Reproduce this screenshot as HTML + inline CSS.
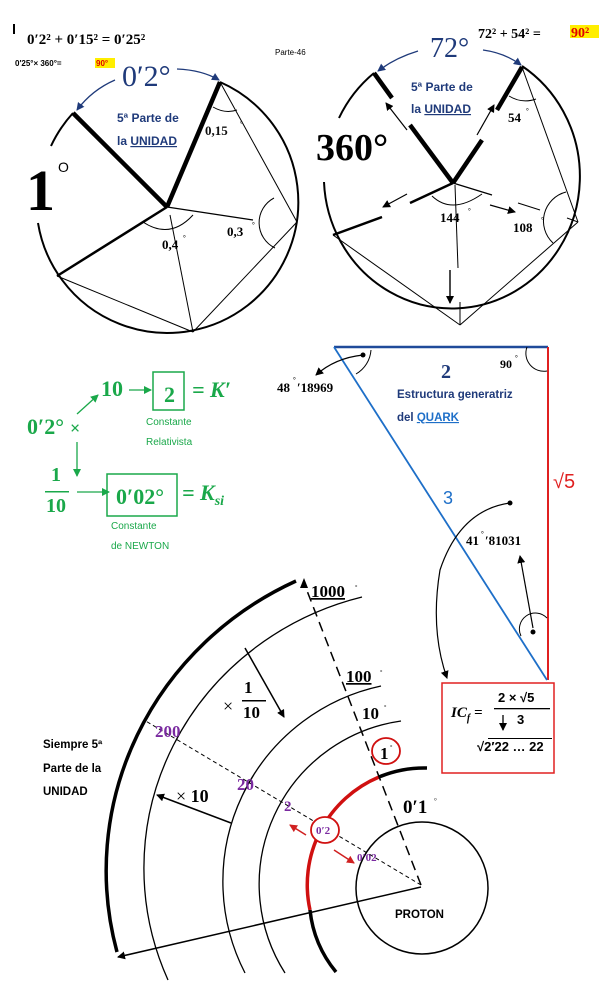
<!DOCTYPE html>
<html><head><meta charset="utf-8"><style>
html,body{margin:0;padding:0;background:#fff;}
svg{display:block;}
.m{font-family:"Liberation Serif",serif;font-weight:bold;}
.s{font-family:"Liberation Sans",sans-serif;font-weight:bold;}
</style></head><body>
<svg width="613" height="998" viewBox="0 0 613 998" xmlns="http://www.w3.org/2000/svg">
<defs>
<marker id="ab" markerWidth="8" markerHeight="8" refX="7" refY="4" orient="auto" markerUnits="userSpaceOnUse"><path d="M0,0 L8,4 L0,8 z" fill="#000"/></marker>
<marker id="abl" markerWidth="8" markerHeight="8" refX="7" refY="4" orient="auto" markerUnits="userSpaceOnUse"><path d="M0,0 L8,4 L0,8 z" fill="#1f3a7a"/></marker>
<marker id="ag" markerWidth="8" markerHeight="8" refX="7" refY="4" orient="auto" markerUnits="userSpaceOnUse"><path d="M0,0 L8,4 L0,8 z" fill="#1aa84a"/></marker>
<marker id="ar" markerWidth="8" markerHeight="8" refX="7" refY="4" orient="auto" markerUnits="userSpaceOnUse"><path d="M0,0 L8,4 L0,8 z" fill="#d02020"/></marker>
</defs>

<!-- ===== TOP LEFT ===== -->
<rect x="13" y="24" width="2" height="10" fill="#000"/>
<text x="27" y="44" class="m" font-size="15">0′2² + 0′15² = 0′25²</text>
<text x="15" y="66" class="s" font-size="8">0′25°× 360°= </text>
<rect x="95" y="58" width="20" height="10" fill="#ffee00"/>
<text x="96" y="66" class="s" font-size="8" fill="#e00000">90°</text>
<text x="275" y="55" font-family="Liberation Sans,sans-serif" font-size="8">Parte-46</text>
<text x="122" y="86" font-family="Liberation Serif,serif" font-size="30" fill="#1f3a7a">0′2°</text>
<path d="M115,80 Q92,90 77,110" fill="none" stroke="#1f3a7a" stroke-width="1.3" marker-end="url(#abl)"/>
<path d="M177,69 Q202,70 219,80" fill="none" stroke="#1f3a7a" stroke-width="1.3" marker-end="url(#abl)"/>
<text x="117" y="122" class="s" font-size="12" fill="#1f3a7a">5ª Parte de</text>
<text x="117" y="145" class="s" font-size="12" fill="#1f3a7a">la <tspan text-decoration="underline">UNIDAD</tspan></text>
<text x="26" y="210" class="m" font-size="58">1</text>
<text x="58" y="172" font-family="Liberation Sans,sans-serif" font-size="14">O</text>
<!-- circle -->
<path d="M73,113 A131,131 0 0 0 51,146" fill="none" stroke="#000" stroke-width="2"/>
<path d="M38,223 A131,131 0 1 0 220,82" fill="none" stroke="#000" stroke-width="2"/>
<line x1="167" y1="207" x2="73" y2="113" stroke="#000" stroke-width="4.5"/>
<line x1="167" y1="207" x2="220" y2="82" stroke="#000" stroke-width="4.5"/>
<line x1="167" y1="207" x2="57" y2="276" stroke="#000" stroke-width="2.5"/>
<line x1="167" y1="207" x2="253" y2="220" stroke="#000" stroke-width="1.3"/>
<line x1="170" y1="215" x2="193" y2="332" stroke="#000" stroke-width="1"/>
<line x1="220" y1="82" x2="297" y2="222" stroke="#000" stroke-width="1"/>
<line x1="297" y1="222" x2="193" y2="332" stroke="#000" stroke-width="1"/>
<line x1="57" y1="276" x2="193" y2="332" stroke="#000" stroke-width="1"/>
<path d="M213,107 Q225,114 237,110" fill="none" stroke="#000" stroke-width="1"/>
<path d="M274,198 A28,28 0 0 0 275,248" fill="none" stroke="#000" stroke-width="1"/>
<path d="M143,222 Q170,240 193,215" fill="none" stroke="#000" stroke-width="1"/>
<text x="205" y="135" class="m" font-size="13" fill="#111">0,15</text><text x="240" y="126" class="m" font-size="7">°</text>
<text x="227" y="236" class="m" font-size="13">0,3</text><text x="252" y="227" class="m" font-size="7">°</text>
<text x="162" y="249" class="m" font-size="13">0,4</text><text x="183" y="240" class="m" font-size="7">°</text>

<!-- ===== TOP RIGHT ===== -->
<text x="430" y="57" font-family="Liberation Serif,serif" font-size="28" fill="#1f3a7a">72°</text>
<text x="478" y="38" class="m" font-size="14">72² + 54² = </text>
<rect x="570" y="25" width="29" height="13" fill="#ffee00"/>
<text x="571" y="37" class="m" font-size="14" fill="#e00000">90²</text>
<path d="M418,51 Q395,58 378,71" fill="none" stroke="#1f3a7a" stroke-width="1.3" marker-end="url(#abl)"/>
<path d="M483,50 Q505,53 521,65" fill="none" stroke="#1f3a7a" stroke-width="1.3" marker-end="url(#abl)"/>
<text x="411" y="91" class="s" font-size="12" fill="#1f3a7a">5ª Parte de</text>
<text x="411" y="113" class="s" font-size="12" fill="#1f3a7a">la <tspan text-decoration="underline">UNIDAD</tspan></text>
<text x="316" y="160" class="m" font-size="38">360°</text>
<path d="M374,73 A128,132 0 0 0 339,118" fill="none" stroke="#000" stroke-width="2"/>
<path d="M324,182 A128,132 0 1 0 522,66" fill="none" stroke="#000" stroke-width="2"/>
<line x1="453" y1="183" x2="410" y2="125" stroke="#000" stroke-width="4.5"/>
<line x1="392" y1="98" x2="374" y2="73" stroke="#000" stroke-width="4.5"/>
<line x1="407" y1="130" x2="386" y2="103" stroke="#000" stroke-width="1.2" marker-end="url(#ab)"/>
<line x1="453" y1="183" x2="482" y2="140" stroke="#000" stroke-width="4.5"/>
<line x1="497" y1="110" x2="522" y2="67" stroke="#000" stroke-width="4.5"/>
<line x1="477" y1="135" x2="494" y2="105" stroke="#000" stroke-width="1.2" marker-end="url(#ab)"/>
<line x1="453" y1="183" x2="410" y2="203" stroke="#000" stroke-width="2.5"/>
<line x1="407" y1="194" x2="383" y2="207" stroke="#000" stroke-width="1.2" marker-end="url(#ab)"/>
<line x1="382" y1="217" x2="333" y2="235" stroke="#000" stroke-width="2.5"/>
<line x1="453" y1="183" x2="492" y2="195" stroke="#000" stroke-width="1.2"/>
<line x1="490" y1="205" x2="515" y2="212" stroke="#000" stroke-width="1.2" marker-end="url(#ab)"/>
<line x1="518" y1="203" x2="540" y2="210" stroke="#000" stroke-width="1"/>
<line x1="567" y1="218" x2="578" y2="222" stroke="#000" stroke-width="1"/>
<line x1="455" y1="185" x2="458" y2="268" stroke="#000" stroke-width="1"/>
<line x1="450" y1="270" x2="450" y2="303" stroke="#000" stroke-width="1.4" marker-end="url(#ab)"/>
<line x1="460" y1="302" x2="460" y2="325" stroke="#000" stroke-width="1"/>
<line x1="522" y1="67" x2="578" y2="222" stroke="#000" stroke-width="1"/>
<line x1="578" y1="222" x2="460" y2="325" stroke="#000" stroke-width="1"/>
<line x1="333" y1="235" x2="460" y2="325" stroke="#000" stroke-width="1"/>
<path d="M509,96 Q522,104 536,99" fill="none" stroke="#000" stroke-width="1"/>
<path d="M566,192 A30,30 0 0 0 553,243" fill="none" stroke="#000" stroke-width="1"/>
<path d="M432,196 Q452,215 482,194" fill="none" stroke="#000" stroke-width="1"/>
<text x="508" y="122" class="m" font-size="13">54</text><text x="526" y="113" class="m" font-size="7">°</text>
<text x="440" y="222" class="m" font-size="13">144</text><text x="468" y="213" class="m" font-size="7">°</text>
<text x="513" y="232" class="m" font-size="13">108</text><text x="541" y="222" class="m" font-size="7">°</text>

<!-- ===== GREEN ===== -->
<g fill="#1aa84a" font-family="Liberation Serif,serif" font-weight="bold">
<text x="27" y="434" font-size="22">0′2°</text>
<text x="70" y="434" font-size="18">×</text>
<text x="101" y="396" font-size="22">10</text>
<text x="164" y="402" font-size="22">2</text>
<text x="192" y="397" font-size="22" font-style="italic">= K′</text>
<text x="51" y="481" font-size="20">1</text>
<rect x="45" y="491" width="24" height="1.5"/>
<text x="46" y="512" font-size="20">10</text>
<text x="116" y="504" font-size="22">0′02°</text>
<text x="182" y="500" font-size="22" font-style="italic">= K<tspan font-size="14" dy="5">si</tspan></text>
</g>
<rect x="153" y="372" width="31" height="38" fill="none" stroke="#1aa84a" stroke-width="1.5"/>
<rect x="107" y="474" width="70" height="42" fill="none" stroke="#1aa84a" stroke-width="1.5"/>
<line x1="77" y1="414" x2="98" y2="395" stroke="#1aa84a" stroke-width="1.3" marker-end="url(#ag)"/>
<line x1="129" y1="390" x2="151" y2="390" stroke="#1aa84a" stroke-width="1.3" marker-end="url(#ag)"/>
<line x1="77" y1="442" x2="77" y2="476" stroke="#1aa84a" stroke-width="1.3" marker-end="url(#ag)"/>
<line x1="77" y1="492" x2="109" y2="492" stroke="#1aa84a" stroke-width="1.3" marker-end="url(#ag)"/>
<g fill="#1aa84a" font-family="Liberation Sans,sans-serif" font-size="10">
<text x="146" y="425">Constante</text><text x="146" y="445">Relativista</text>
<text x="111" y="529">Constante</text><text x="111" y="549">de NEWTON</text>
</g>

<!-- ===== TRIANGLE ===== -->
<line x1="334" y1="347" x2="548" y2="347" stroke="#1f4a9a" stroke-width="2.5"/>
<line x1="548" y1="347" x2="548" y2="680" stroke="#e02020" stroke-width="2"/>
<line x1="334" y1="347" x2="547" y2="680" stroke="#1e6fc8" stroke-width="1.8"/>
<path d="M371,350 A30,30 0 0 1 356,374" fill="none" stroke="#000" stroke-width="1"/>
<circle cx="363" cy="355" r="2.5" fill="#000"/>
<path d="M363,355 Q335,358 316,375" fill="none" stroke="#000" stroke-width="1.2" marker-end="url(#ab)"/>
<path d="M527,347 A18,18 0 0 0 547,371" fill="none" stroke="#000" stroke-width="1"/>
<text x="277" y="392" class="m" font-size="13">48</text><text x="293" y="382" class="m" font-size="7">°</text><text x="297" y="392" class="m" font-size="13">′18969</text>
<text x="441" y="378" class="m" font-size="20" fill="#1f3a7a">2</text>
<text x="500" y="368" class="m" font-size="12">90</text><text x="515" y="360" class="m" font-size="7">°</text>
<text x="397" y="398" class="s" font-size="11.5" fill="#1f3a7a">Estructura generatriz</text>
<text x="397" y="421" class="s" font-size="11.5" fill="#1f3a7a">del <tspan fill="#1e6fc8" text-decoration="underline">QUARK</tspan></text>
<text x="443" y="504" font-family="Liberation Sans,sans-serif" font-size="18" fill="#1e6fc8">3</text>
<text x="553" y="488" font-family="Liberation Sans,sans-serif" font-size="20" fill="#e02020">√5</text>
<circle cx="510" cy="503" r="2.5" fill="#000"/>
<path d="M510,503 Q460,510 440,570 Q430,630 447,678" fill="none" stroke="#000" stroke-width="1.2" marker-end="url(#ab)"/>
<text x="466" y="545" class="m" font-size="13">41</text><text x="481" y="536" class="m" font-size="7">°</text><text x="485" y="545" class="m" font-size="13">′81031</text>
<line x1="533" y1="628" x2="520" y2="556" stroke="#000" stroke-width="1.2" marker-end="url(#ab)"/>
<circle cx="533" cy="632" r="2.5" fill="#000"/>
<path d="M521,636 A16,16 0 0 1 547,618" fill="none" stroke="#000" stroke-width="1"/>
<rect x="442" y="683" width="112" height="90" fill="none" stroke="#e02020" stroke-width="1.5"/>
<text x="451" y="717" class="m" font-size="15" font-style="italic">IC<tspan font-size="10" dy="4">f</tspan><tspan dy="-4"> =</tspan></text>
<text x="498" y="702" class="s" font-size="13">2 × √5</text>
<rect x="494" y="708" width="56" height="1.3" fill="#000"/>
<text x="517" y="724" class="s" font-size="13">3</text>
<line x1="503" y1="715" x2="503" y2="730" stroke="#000" stroke-width="1.3" marker-end="url(#ab)"/>
<text x="477" y="751" class="s" font-size="13">√2′22 … 22</text>
<rect x="488" y="738" width="64" height="1" fill="#000"/>

<!-- ===== BOTTOM ===== -->
<path d="M296,581 A330,320 0 0 0 117,952" fill="none" stroke="#000" stroke-width="3.5"/>
<path d="M362,597 A290,280 0 0 0 168,980" fill="none" stroke="#000" stroke-width="1.3"/>
<path d="M381,686 A200,200 0 0 0 245,973" fill="none" stroke="#000" stroke-width="1.3"/>
<path d="M401,721 A165,165 0 0 0 285,973" fill="none" stroke="#000" stroke-width="1.3"/>
<path d="M427,768 A117,117 0 0 0 379,777" fill="none" stroke="#000" stroke-width="3.5"/>
<path d="M379,777 A117,117 0 0 0 310,910" fill="none" stroke="#d01010" stroke-width="3.5"/>
<path d="M310,910 A117,117 0 0 0 336,972" fill="none" stroke="#000" stroke-width="3.5"/>
<circle cx="422" cy="888" r="66" fill="none" stroke="#000" stroke-width="1.5"/>
<line x1="421" y1="885" x2="304" y2="583" stroke="#000" stroke-width="1.5" stroke-dasharray="10,6"/>
<path d="M304,578 L300,588 L308,588 z" fill="#000"/>
<line x1="421" y1="885" x2="144" y2="720" stroke="#000" stroke-width="1" stroke-dasharray="4,3"/>
<line x1="421" y1="887" x2="118" y2="957" stroke="#000" stroke-width="1.5" marker-end="url(#ab)"/>
<line x1="245" y1="648" x2="284" y2="717" stroke="#000" stroke-width="1.5" marker-end="url(#ab)"/>
<line x1="231" y1="823" x2="157" y2="795" stroke="#000" stroke-width="1.5" marker-end="url(#ab)"/>
<line x1="306" y1="835" x2="290" y2="825" stroke="#d02020" stroke-width="1.5" marker-end="url(#ar)"/>
<line x1="334" y1="850" x2="354" y2="863" stroke="#d02020" stroke-width="1.5" marker-end="url(#ar)"/>
<ellipse cx="386" cy="751" rx="14" ry="13" fill="#fff" stroke="#d01010" stroke-width="1.8"/>
<ellipse cx="325" cy="830" rx="14" ry="13" fill="#fff" stroke="#d01010" stroke-width="1.8"/>
<text x="380" y="759" class="m" font-size="17">1</text><text x="390" y="749" font-size="6" font-family="Liberation Serif,serif">°</text>
<text x="316" y="834" class="m" font-size="11" fill="#7a2aa0">0′2</text>
<text x="311" y="597" class="m" font-size="17" text-decoration="underline">1000</text><text x="355" y="589" font-size="6" font-family="Liberation Serif,serif">°</text>
<text x="346" y="682" class="m" font-size="17" text-decoration="underline">100</text><text x="380" y="674" font-size="6" font-family="Liberation Serif,serif">°</text>
<text x="362" y="719" class="m" font-size="17">10</text><text x="384" y="709" font-size="6" font-family="Liberation Serif,serif">°</text>
<text x="403" y="813" class="m" font-size="19">0′1</text><text x="434" y="803" font-size="7" font-family="Liberation Serif,serif">°</text>
<text x="155" y="737" class="m" font-size="17" fill="#7a2aa0">200</text>
<text x="237" y="790" class="m" font-size="17" fill="#7a2aa0">20</text>
<text x="284" y="811" class="m" font-size="15" fill="#7a2aa0">2</text>
<text x="357" y="861" class="m" font-size="11" fill="#7a2aa0">0′02</text>
<text x="223" y="712" font-family="Liberation Serif,serif" font-size="18">×</text>
<text x="244" y="693" class="m" font-size="17">1</text>
<rect x="242" y="700" width="24" height="1.5" fill="#000"/>
<text x="243" y="718" class="m" font-size="17">10</text>
<text x="176" y="802" font-family="Liberation Serif,serif" font-size="18">× <tspan font-weight="bold">10</tspan></text>
<g class="s" font-size="11.5">
<text x="43" y="748">Siempre 5ª</text>
<text x="43" y="772">Parte de la</text>
<text x="43" y="795">UNIDAD</text>
<text x="395" y="918">PROTON</text>
</g>
</svg>
</body></html>
